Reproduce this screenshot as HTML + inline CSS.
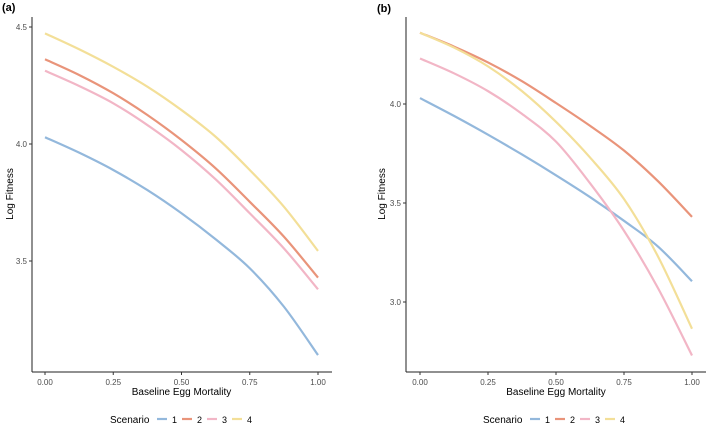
<!DOCTYPE html>
<html><head><meta charset="utf-8"><style>
body{margin:0;background:#fff;}
svg{display:block;font-family:"Liberation Sans",sans-serif;}
</style></head><body>
<svg id="c" width="709" height="425"></svg>
<script>
const xVals=[0,0.125,0.25,0.375,0.5,0.625,0.75,0.875,1];
const xTicks=[0,0.25,0.5,0.75,1];
const xTickLabels=["0.00","0.25","0.50","0.75","1.00"];
const aS1=[4.029,3.963,3.889,3.803,3.704,3.593,3.469,3.305,3.098];
const aS2=[4.362,4.295,4.217,4.124,4.017,3.896,3.753,3.604,3.429];
const aS3=[4.313,4.248,4.174,4.081,3.974,3.849,3.704,3.554,3.379];
const aS4=[4.473,4.405,4.330,4.245,4.145,4.031,3.889,3.732,3.543];
const aYTicks=[3.5,4.0,4.5];
const aYTickLabels=["3.5","4.0","4.5"];
const bS1=[4.03,3.94,3.845,3.745,3.64,3.53,3.41,3.28,3.105];
const bS2=[4.36,4.29,4.21,4.115,4.005,3.89,3.765,3.61,3.43];
const bS3=[4.23,4.155,4.065,3.95,3.81,3.60,3.36,3.07,2.73];
const bS4=[4.36,4.285,4.19,4.065,3.91,3.73,3.52,3.23,2.865];
const bYTicks=[3.0,3.5,4.0];
const bYTickLabels=["3.0","3.5","4.0"];
const scenarios=["1","2","3","4"];
const colors=["#93b8dc","#e9947a","#f2b6c6","#f3df98"];

const NS="http://www.w3.org/2000/svg";
const svg=document.getElementById('c');
function mk(tag,attrs,parent,text){const e=document.createElementNS(NS,tag);for(const k in attrs)e.setAttribute(k,attrs[k]);if(text!==undefined)e.textContent=text;(parent||svg).appendChild(e);return e;}
function path(pts){let d="M"+pts[0][0]+","+pts[0][1];for(let i=0;i<pts.length-1;i++){const p0=pts[i-1]||pts[i],p1=pts[i],p2=pts[i+1],p3=pts[i+2]||p2;const c1=[p1[0]+(p2[0]-p0[0])/6,p1[1]+(p2[1]-p0[1])/6],c2=[p2[0]-(p3[0]-p1[0])/6,p2[1]-(p3[1]-p1[1])/6];d+=" C"+c1+" "+c2+" "+p2;}return d;}

function panel(o){
  const g=mk('g',{});
  
  
  const xs=v=>o.x0+(o.x1-o.x0)*v;
  const ys=v=>o.yRef+(o.vRef-v)*o.ppu;
  const t=mk('text',{x:o.lx,y:o.ly,'font-size':11,'font-weight':'bold',fill:'#000'},g,o.label);
  
  o.series.forEach((s,i)=>{
    const p=mk('path',{d:path(xVals.map((x,j)=>[xs(x),ys(s[j])])),fill:'none',stroke:colors[i],'stroke-width':2.2},g);
    
    
  });
  const ax=mk('line',{x1:o.ax,y1:17,x2:o.ax,y2:o.ab,stroke:'#222','stroke-width':1},g);
  
  const bx=mk('line',{x1:o.ax,y1:o.ab,x2:o.right,y2:o.ab,stroke:'#222','stroke-width':1},g);
  
  xTicks.forEach((v,i)=>{
    mk('line',{x1:xs(v),y1:o.ab,x2:xs(v),y2:o.ab+3,stroke:'#333'},g);
    const tl=mk('text',{x:xs(v),y:o.ab+13,'font-size':8,fill:'#4d4d4d','text-anchor':'middle'},g,xTickLabels[i]);
    
  });
  o.yTicks.forEach((v,i)=>{
    mk('line',{x1:o.ax-3,y1:ys(v),x2:o.ax,y2:ys(v),stroke:'#333'},g);
    const tl=mk('text',{x:o.ax-5,y:ys(v)+3,'font-size':8,fill:'#4d4d4d','text-anchor':'end'},g,o.yLabels[i]);
    
  });
  const xt=mk('text',{x:(xs(0)+xs(1))/2,y:395,'font-size':10,fill:'#000','text-anchor':'middle'},g,'Baseline Egg Mortality');
  
  const yt=mk('text',{x:0,y:0,'font-size':10,fill:'#000','text-anchor':'middle',transform:`translate(${o.ytx},194) rotate(-90)`},g,'Log Fitness');
  
  const lg=mk('g',{},g);
  
  mk('text',{x:o.legX,y:423,'font-size':10,fill:'#000'},lg,'Scenario');
  scenarios.forEach((s,i)=>{
    const bx0=o.legX+47+i*25;
    const e=mk('g',{},lg);
    
    mk('line',{x1:bx0,y1:419,x2:bx0+10,y2:419,stroke:colors[i],'stroke-width':2.2},e);
    mk('text',{x:bx0+15,y:423,'font-size':9,fill:'#000'},e,s);
  });
}
panel({name:'panel-a',label:'(a)',lx:2,ly:11,x0:45,x1:318,ax:32,ab:372,right:332,yRef:144,vRef:4.0,ppu:234,yTicks:aYTicks,yLabels:aYTickLabels,series:[aS1,aS2,aS3,aS4],ytx:13,legX:110});
panel({name:'panel-b',label:'(b)',lx:377,ly:12,x0:420,x1:692,ax:406,ab:372,right:706,yRef:104,vRef:4.0,ppu:198,yTicks:bYTicks,yLabels:bYTickLabels,series:[bS1,bS2,bS3,bS4],ytx:385,legX:483});
</script>
</body></html>
